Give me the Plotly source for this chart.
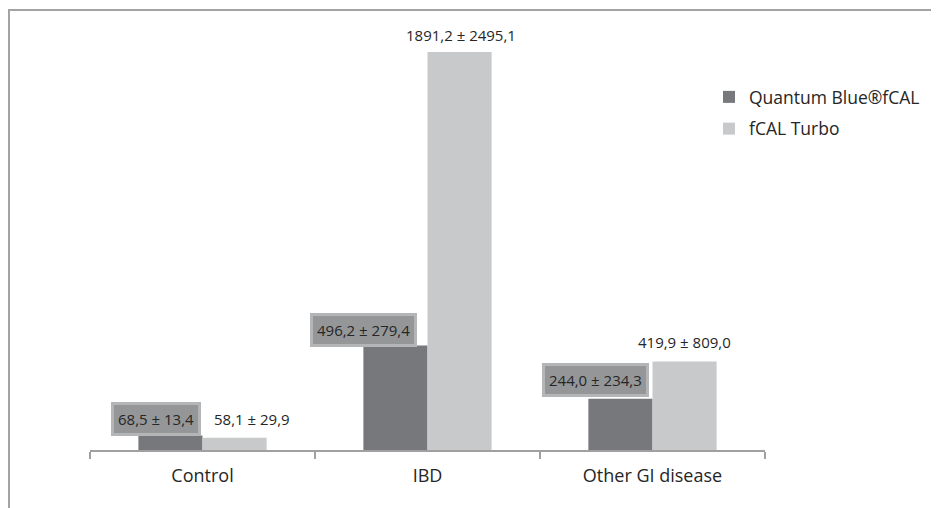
import plotly.graph_objects as go

categories = ["Control", "IBD", "Other GI disease"]
quantum_mean = [68.5, 496.2, 244.0]
quantum_sd = [13.4, 279.4, 234.3]
turbo_mean = [58.1, 1891.2, 419.9]
turbo_sd = [29.9, 2495.1, 809.0]
series_names = ["Quantum Blue®fCAL", "fCAL Turbo"]

def fmt(m, s):
    return f"{m:.1f}".replace(".", ",") + " ± " + f"{s:.1f}".replace(".", ",")

dark = "#77787b"
light = "#c8c9cb"
font_family = "Open Sans"

fig = go.Figure()
fig.add_trace(go.Bar(x=categories, y=quantum_mean, name=series_names[0],
                     marker=dict(color=dark, line=dict(width=0)), legendgroup="a"))
fig.add_trace(go.Bar(x=categories, y=turbo_mean, name=series_names[1],
                     marker=dict(color=light, line=dict(width=0)), legendgroup="b"))

# label offsets (px) for dark / light labels
dark_xshift = [-47, -64, -57]
dark_yshift = [17, 16, 19]
light_xshift = [49, 33, 32]
light_yshift = [19, 17, 20]

annotations = []
for i, c in enumerate(categories):
    annotations.append(dict(x=c, y=quantum_mean[i], xref="x", yref="y",
                            xshift=dark_xshift[i], yshift=dark_yshift[i],
                            text=fmt(quantum_mean[i], quantum_sd[i]), showarrow=False,
                            bgcolor="#959698", bordercolor="#b4b5b7",
                            borderwidth=3, borderpad=4,
                            font=dict(family=font_family, size=15, color="#262626")))
    annotations.append(dict(x=c, y=turbo_mean[i], xref="x", yref="y",
                            xshift=light_xshift[i], yshift=light_yshift[i],
                            text=fmt(turbo_mean[i], turbo_sd[i]), showarrow=False,
                            font=dict(family=font_family, size=15, color="#262626")))

# page body has an 8px margin, so the figure origin sits at (8, 8)
OFF = 8
W, H = 939 - OFF, 508 - OFF
L, T, B = 90 - OFF, 29 - OFF, 58
R = W - (765 - OFF)
pw, ph = W - L - R, H - T - B
def px_x(x):
    return (x - OFF - L) / pw
def px_y(y):
    return (H + OFF - B - y) / ph

shapes = [
    dict(type="line", xref="paper", yref="paper", x0=px_x(7), x1=px_x(950),
         y0=px_y(10), y1=px_y(10), line=dict(color="#a3a3a3", width=2)),
    dict(type="line", xref="paper", yref="paper", x0=px_x(9), x1=px_x(9),
         y0=px_y(9), y1=px_y(520), line=dict(color="#a3a3a3", width=2)),
]

fig.update_layout(
    width=W, height=H,
    margin=dict(l=L, r=R, t=T, b=B, autoexpand=False),
    paper_bgcolor="white", plot_bgcolor="white",
    barmode="group", bargap=0.43, bargroupgap=0,
    font=dict(family=font_family, color="#262626"),
    xaxis=dict(showline=True, linecolor="#a0a0a0", linewidth=2,
               ticks="outside", tickson="boundaries", ticklen=7, tickwidth=2,
               tickcolor="#a0a0a0", tickfont=dict(size=18, color="#262626"),
               ticklabelstandoff=8,
               showgrid=False, fixedrange=True),
    yaxis=dict(range=[0, 2000], visible=False, showgrid=False, fixedrange=True),
    legend=dict(x=px_x(709), y=px_y(79), xanchor="left", yanchor="top",
                traceorder="grouped", tracegroupgap=6,
                font=dict(size=17.5, color="#262626"), bgcolor="rgba(0,0,0,0)"),
    annotations=annotations,
    shapes=shapes,
)

fig.write_html("out.html")
